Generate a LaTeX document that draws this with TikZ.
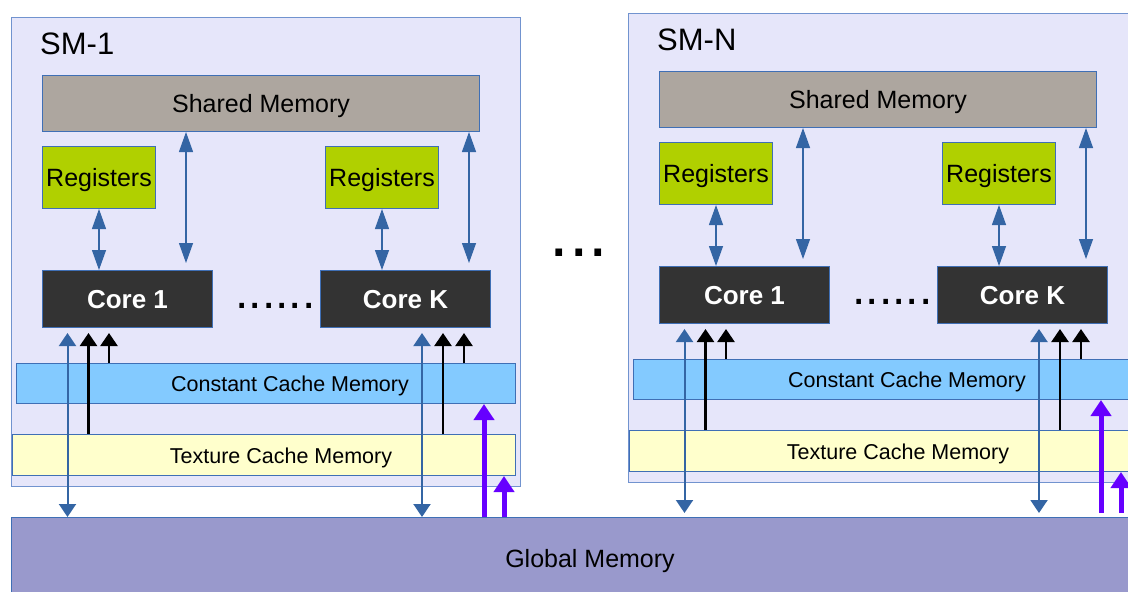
\documentclass[tikz,border=0pt]{standalone}
\usepackage{fontspec}
\setmainfont{Liberation Sans}
\usepackage{tikz}
\usetikzlibrary{calc}
\usetikzlibrary{arrows.meta}

\definecolor{smFill}{HTML}{E6E6FA}
\definecolor{smLine}{HTML}{7193CF}
\definecolor{boxLine}{HTML}{3F6FB5}
\definecolor{sharedFill}{HTML}{ADA69F}
\definecolor{regFill}{HTML}{B0D000}
\definecolor{coreFill}{HTML}{333333}
\definecolor{constFill}{HTML}{83CAFF}
\definecolor{texFill}{HTML}{FFFFCC}
\definecolor{gmemFill}{HTML}{9999CC}
\definecolor{linkBlue}{HTML}{3465A4}
\definecolor{linkPurple}{HTML}{6600FF}

\newcommand{\pxsize}[1]{\fontsize{#1}{#1}\selectfont}

\begin{document}
\begin{tikzpicture}[x=1pt, y=-1pt,
    block/.style={draw=boxLine, line width=1pt, inner sep=0pt, anchor=north west},
    capmid/.style={text height=#1, text depth=0pt},
    thinLink/.style={linkBlue, line width=1.3pt, >={Triangle[length=20pt,width=14pt]}, <->},
    busLink/.style={linkBlue, line width=2pt, >={Triangle[length=13pt,width=17pt]}, <->},
    texLink/.style={black, line width=2.5pt, >={Triangle[length=13pt,width=17pt]}, ->},
    feedLink/.style={linkPurple, line width=5pt, >={Triangle[length=16pt,width=20pt]}, ->}]

    % Page frame (1 pt per pixel)
    \useasboundingbox (0,0) rectangle (1128,592);
    \clip (0,0) rectangle (1128,592);

    % Global memory along the bottom
    \node[block, fill=gmemFill, minimum width=1130pt, minimum height=90pt] (gmem) at (11,517) {};
    \node[inner sep=0pt, capmid=18pt, font=\pxsize{25}] (gmemText) at (590,558) {Global Memory};

    % Gap between the multiprocessors
    \node[anchor=base, inner sep=0pt, font=\pxsize{70}] (gap) at (579,256) {...};

    % One streaming multiprocessor, drawn twice
    \foreach \n/\dx/\dy in {1/0/0, N/617/-4}{
    \begin{scope}[shift={(\dx,\dy)}]
        % frame and title
        \node[block, draw=smLine, fill=smFill, minimum width=509pt, minimum height=469pt] (sm\n) at (11,17) {};
        \node[anchor=base west, inner sep=0pt, font=\pxsize{31}] (title\n) at (40,54) {SM-\n};

        % shared memory and registers
        \node[block, capmid=18pt, fill=sharedFill, minimum width=437pt, minimum height=56pt, font=\pxsize{25}] (shared\n) at (42,75) {Shared Memory};
        \node[block, capmid=18pt, fill=regFill, minimum width=113pt, minimum height=62pt, font=\pxsize{25}] (regA\n) at (42,146) {Registers};
        \node[block, capmid=18pt, fill=regFill, minimum width=113pt, minimum height=62pt, font=\pxsize{25}] (regB\n) at (325,146) {Registers};

        % cores
        \node[block, capmid=18.7pt, fill=coreFill, text=white, minimum width=170pt, minimum height=57pt, font=\bfseries\pxsize{26}] (coreA\n) at (42,270) {Core 1};
        \node[block, capmid=18.7pt, fill=coreFill, text=white, minimum width=170pt, minimum height=57pt, font=\bfseries\pxsize{26}] (coreB\n) at (320,270) {Core K};
        \node[anchor=base, inner sep=0pt, font=\pxsize{48}] (dots\n) at (275.5,308) {......};

        % caches
        \node[block, fill=constFill, minimum width=499pt, minimum height=40pt] (const\n) at (16,363) {};
        \node[inner sep=0pt, capmid=15.5pt, font=\pxsize{21.5}] (constText\n) at (290,384) {Constant Cache Memory};
        \node[block, fill=texFill, minimum width=503pt, minimum height=41pt] (tex\n) at (12,434) {};
        \node[inner sep=0pt, capmid=15.5pt, font=\pxsize{21.5}] (texText\n) at (281,455.5) {Texture Cache Memory};

        % registers and shared memory to the cores
        \coordinate (sa\n) at (186,263);
        \coordinate (sb\n) at (469,263);
        \draw[thinLink] (regA\n.south) -- (regA\n.south |- coreA\n.north);
        \draw[thinLink] (shared\n.south -| sa\n) -- (sa\n);
        \draw[thinLink] (regB\n.south) -- (regB\n.south |- coreB\n.north);
        \draw[thinLink] (shared\n.south -| sb\n) -- (sb\n);

        % global memory and caches to the cores
        \foreach \c/\xa/\xb/\xc in {A/67.5/88.5/109, B/422/443/464}{
            \coordinate (up\c\n) at (\xa,333);
            \coordinate (down\c\n) at (\xa,517);
            \coordinate (tt\c\n) at (\xb,333);
            \coordinate (ct\c\n) at (\xc,333);
            \draw[busLink] (up\c\n) -- (down\c\n);
            \draw[texLink] (tex\n.north -| tt\c\n) -- (tt\c\n);
            \draw[texLink] (const\n.north -| ct\c\n) -- (ct\c\n);
        }

        % global memory filling the caches
        \coordinate (pa\n) at (484,517);
        \coordinate (pb\n) at (504,517);
        \draw[feedLink] (pa\n) -- (pa\n |- const\n.south);
        \draw[feedLink] (pb\n) -- (pb\n |- tex\n.south);
    \end{scope}
    }
\end{tikzpicture}
\end{document}
